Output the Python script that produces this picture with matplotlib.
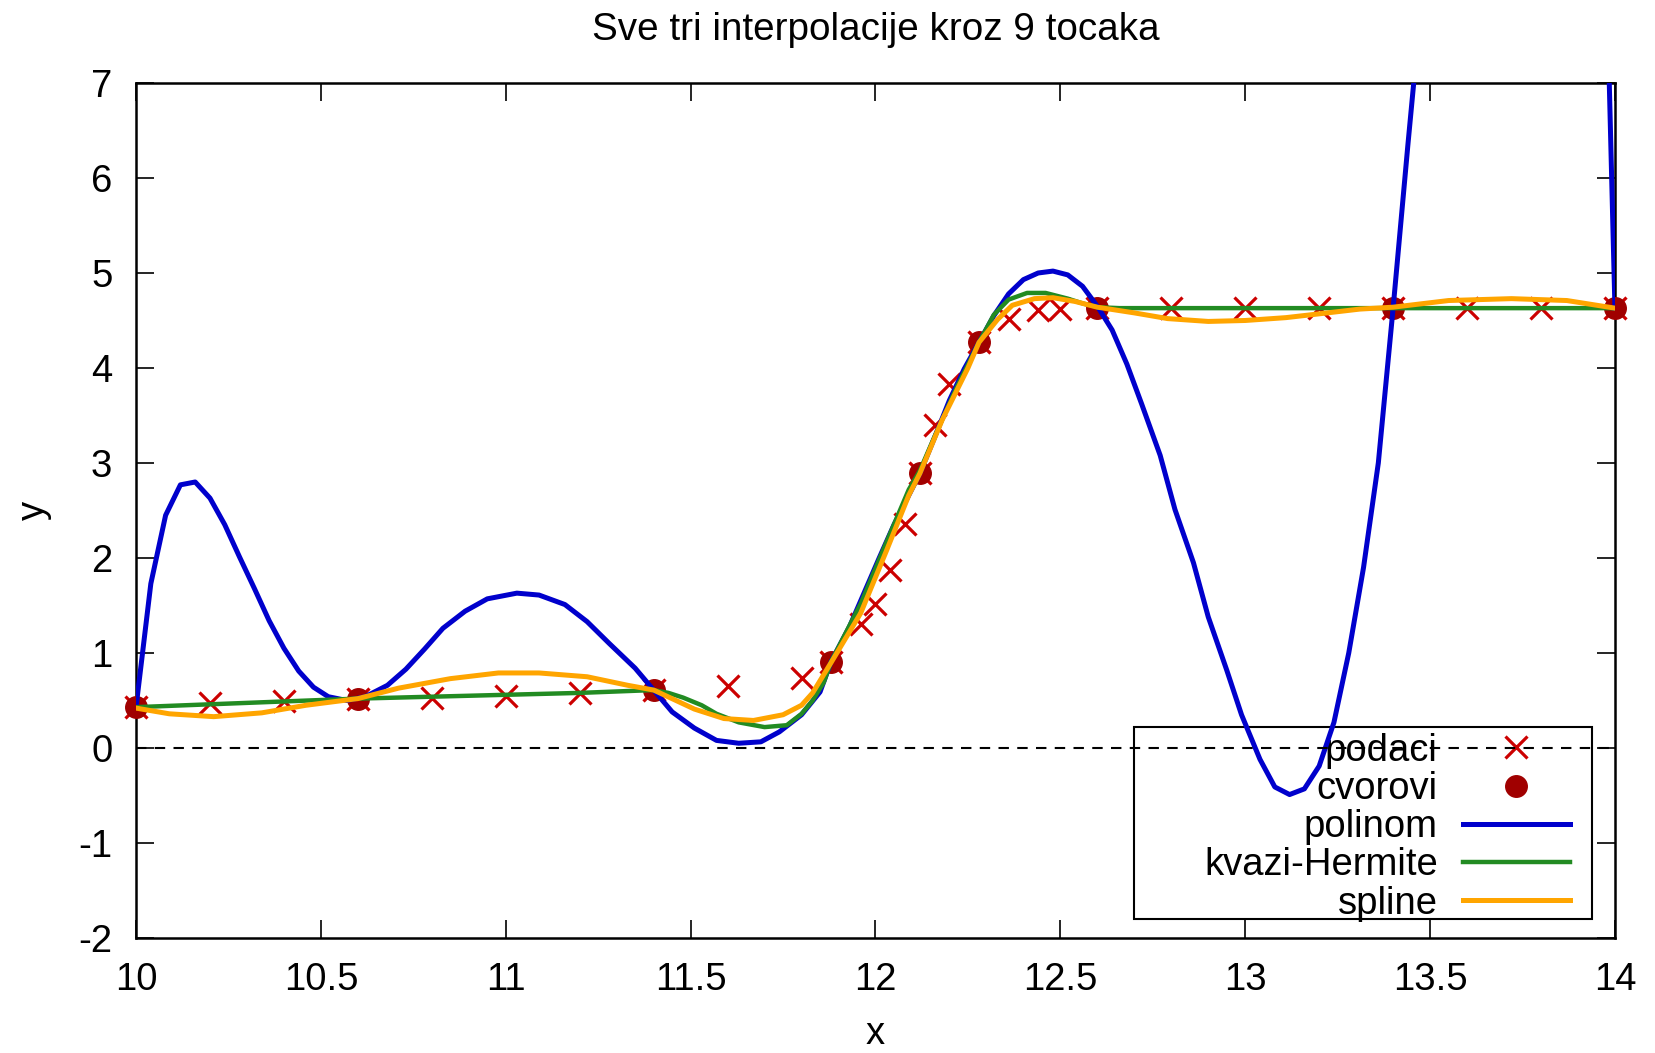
import matplotlib
matplotlib.use("Agg")
import matplotlib.pyplot as plt
from matplotlib.patches import Rectangle

plt.rcParams['font.family'] = ['Liberation Sans', 'DejaVu Sans']
plt.rcParams['font.size'] = 27.5
plt.rcParams['axes.unicode_minus'] = False

# measured points (podaci)
data_x = [10.0, 10.2, 10.4, 10.6, 10.8, 11.0, 11.2, 11.4, 11.6, 11.8, 11.88,
          11.96, 12.0, 12.04, 12.08, 12.12, 12.16, 12.2, 12.28, 12.36, 12.44,
          12.5, 12.6, 12.8, 13.0, 13.2, 13.4, 13.6, 13.8, 14.0]
data_y = [0.43, 0.47, 0.50, 0.52, 0.53, 0.55, 0.58, 0.61, 0.65, 0.74, 0.91,
          1.30, 1.52, 1.87, 2.36, 2.89, 3.40, 3.83, 4.27, 4.52, 4.61,
          4.62, 4.63, 4.63, 4.63, 4.63, 4.63, 4.63, 4.63, 4.63]

# interpolation nodes (cvorovi)
node_x = [10.0, 10.6, 11.4, 11.88, 12.12, 12.28, 12.6, 13.4, 14.0]
node_y = [0.43, 0.52, 0.61, 0.91, 2.89, 4.27, 4.63, 4.63, 4.63]

# polynomial through the nodes
poly_x = [10.0, 10.04, 10.08, 10.12, 10.16, 10.2, 10.24, 10.28, 10.32, 10.36,
          10.4, 10.44, 10.48, 10.52, 10.57, 10.62, 10.68, 10.73, 10.78, 10.83,
          10.89, 10.95, 11.03, 11.09, 11.16, 11.22, 11.28, 11.35, 11.4, 11.45,
          11.51, 11.57, 11.63, 11.69, 11.74, 11.8, 11.85, 11.88, 11.93, 11.97,
          12.01, 12.05, 12.09, 12.12, 12.16, 12.2, 12.24, 12.28, 12.32, 12.36,
          12.4, 12.44, 12.48, 12.52, 12.56, 12.6, 12.64, 12.68, 12.72, 12.77,
          12.81, 12.86, 12.9, 12.95, 12.99, 13.04, 13.08, 13.12, 13.16, 13.2,
          13.24, 13.28, 13.32, 13.36, 13.4, 13.44, 13.48, 13.55, 13.65, 13.75,
          13.85, 13.92, 13.96, 14.0]
poly_y = [0.43, 1.73, 2.45, 2.77, 2.80, 2.63, 2.35, 2.01, 1.68, 1.34,
          1.05, 0.81, 0.64, 0.54, 0.50, 0.54, 0.66, 0.83, 1.04, 1.26,
          1.44, 1.57, 1.63, 1.61, 1.51, 1.33, 1.10, 0.84, 0.61, 0.38,
          0.21, 0.08, 0.05, 0.065, 0.17, 0.35, 0.59, 0.91, 1.28, 1.64,
          2.0, 2.35, 2.66, 2.89, 3.27, 3.66, 3.99, 4.27, 4.55, 4.78,
          4.93, 5.0, 5.02, 4.98, 4.86, 4.65, 4.40, 4.04, 3.62, 3.08,
          2.51, 1.95, 1.38, 0.82, 0.35, -0.12, -0.41, -0.49, -0.43, -0.19,
          0.27, 1.0, 1.9, 3.0, 4.63, 6.35, 8.0, 11.0, 14.0, 15.0,
          14.0, 12.0, 10.8, 4.63]

# quasi-Hermite
herm_x = [10.0, 10.2, 10.4, 10.6, 10.8, 11.0, 11.2, 11.4, 11.44, 11.48,
          11.53, 11.57, 11.63, 11.7, 11.76, 11.8, 11.83, 11.86, 11.88, 11.96,
          12.03, 12.09, 12.12, 12.16, 12.22, 12.28, 12.32, 12.36, 12.41, 12.46,
          12.52, 12.56, 12.6, 12.66, 13.0, 13.4, 14.0]
herm_y = [0.43, 0.46, 0.49, 0.52, 0.54, 0.56, 0.58, 0.61, 0.58, 0.53,
          0.45, 0.36, 0.27, 0.22, 0.24, 0.36, 0.50, 0.69, 0.91, 1.52,
          2.17, 2.72, 2.92, 3.28, 3.80, 4.27, 4.56, 4.72, 4.79, 4.79,
          4.73, 4.68, 4.64, 4.63, 4.63, 4.63, 4.63]

# cubic spline
spl_x = [10.0, 10.09, 10.21, 10.34, 10.46, 10.6, 10.71, 10.85, 10.98, 11.09,
         11.22, 11.33, 11.4, 11.51, 11.59, 11.67, 11.75, 11.8, 11.83, 11.88,
         11.96, 12.03, 12.09, 12.12, 12.18, 12.25, 12.28, 12.33, 12.37, 12.43,
         12.48, 12.54, 12.6, 12.7, 12.79, 12.9, 13.0, 13.11, 13.2, 13.31,
         13.4, 13.55, 13.72, 13.87, 14.0]
spl_y = [0.42, 0.36, 0.33, 0.37, 0.45, 0.52, 0.63, 0.73, 0.79, 0.79,
         0.75, 0.66, 0.61, 0.41, 0.31, 0.29, 0.35, 0.45, 0.58, 0.90,
         1.42, 2.08, 2.66, 2.89, 3.45, 4.0, 4.27, 4.51, 4.66, 4.73,
         4.74, 4.70, 4.64, 4.58, 4.52, 4.49, 4.50, 4.53, 4.57, 4.62,
         4.64, 4.71, 4.73, 4.71, 4.63]

xticks = [10, 10.5, 11, 11.5, 12, 12.5, 13, 13.5, 14]
xticklabels = ['10', '10.5', '11', '11.5', '12', '12.5', '13', '13.5', '14']
yticks = list(range(-2, 8))

fig = plt.figure(figsize=(16.55, 10.53), dpi=100)
ax = fig.add_axes([0.0822, 0.1092, 0.9758 - 0.0822, 0.9212 - 0.1092])

ax.axhline(0, color='black', lw=1.5, ls=(0, (5, 4)), zorder=6)

ax.plot(data_x, data_y, ls='none', marker='x', ms=16, mew=2.3,
        color='#cc0000', label='podaci', clip_on=False, zorder=3)
ax.plot(node_x, node_y, ls='none', marker='o', ms=15.5,
        color='#a00000', label='cvorovi', clip_on=False, zorder=3)
ax.plot(poly_x, poly_y, color='#0000cc', lw=3.6, label='polinom', zorder=4)
ax.plot(herm_x, herm_y, color='#228b22', lw=3.2, label='kvazi-Hermite', zorder=4)
ax.plot(spl_x, spl_y, color='#ffa500', lw=3.6, label='spline', zorder=4)

ax.set_xlim(10, 14)
ax.set_ylim(-2, 7)
ax.set_xticks(xticks)
ax.set_xticklabels(xticklabels)
ax.set_yticks(yticks)
ax.tick_params(direction='in', length=13, width=1.2, top=True, right=True)
ax.tick_params(axis='x', pad=17)
ax.tick_params(axis='y', pad=17)
for s in ax.spines.values():
    s.set_linewidth(1.8)

ax.set_title('Sve tri interpolacije kroz 9 tocaka', fontsize=27.8, pad=31)
ax.set_xlabel('x', labelpad=13)
ax.set_ylabel('y', labelpad=19)

# gnuplot-style key: box drawn separately, entries right aligned inside
ax.add_patch(Rectangle((0.6745, 0.0222), 0.9843 - 0.6745, 0.2469 - 0.0222,
                       transform=ax.transAxes, fill=False, ec='black',
                       lw=1.5, zorder=2))
leg = ax.legend(loc='lower right', bbox_to_anchor=(0.9693, 0.019),
                borderaxespad=0, borderpad=0, markerfirst=False,
                frameon=False, handlelength=2.8, handletextpad=0.65,
                labelspacing=0.06)
leg.set_zorder(2)

fig.savefig('out.png', dpi=100)
